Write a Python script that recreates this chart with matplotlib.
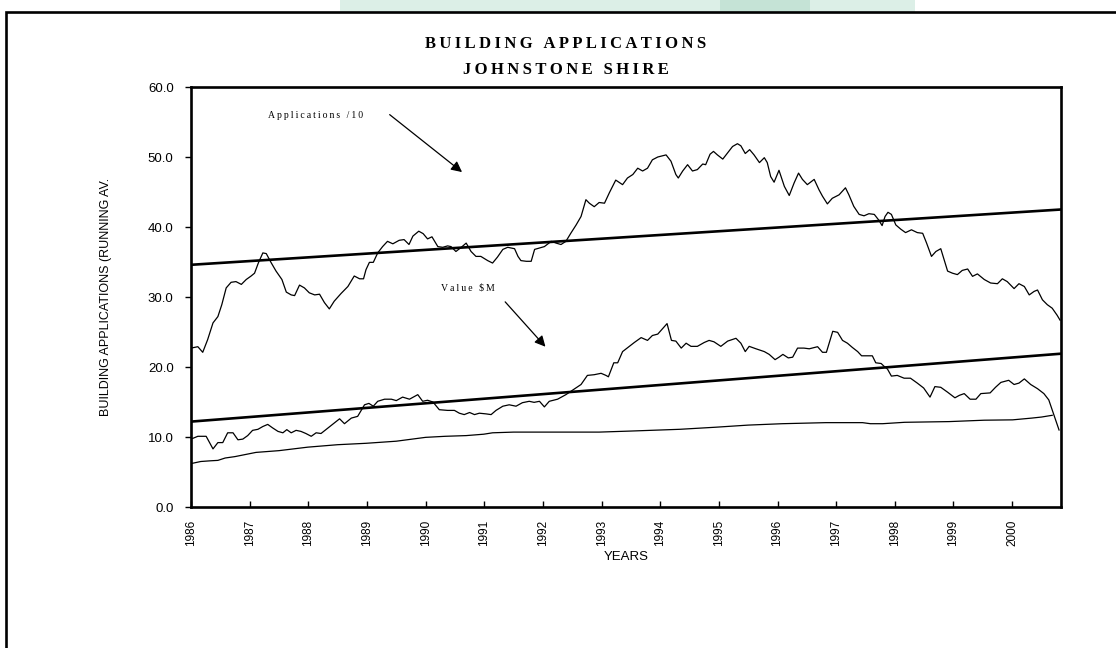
import matplotlib
matplotlib.use("Agg")
import matplotlib.pyplot as plt
from matplotlib.patches import Rectangle

# months counted from Jan 1986
apps_month = [0.0, 1.4, 2.4, 3.4, 4.5, 5.5, 6.3, 7.2, 8.2, 9.2, 10.3, 11.3, 12.3, 13.0, 13.8,
              14.7, 15.4, 16.4, 17.4, 18.6, 19.5, 20.5, 21.2, 22.2, 23.2, 24.2, 25.3, 26.3,
              27.3, 28.3, 29.3, 30.7, 32.1, 33.4, 34.5, 35.3, 35.8, 36.5, 37.3, 38.2, 39.2,
              40.2, 41.3, 42.6, 43.6, 44.6, 45.4, 46.6, 47.5, 48.4, 49.3, 50.5, 51.5, 52.5,
              53.2, 54.2, 55.3, 56.3, 57.3, 58.3, 59.3, 60.7, 61.7, 62.7, 63.8, 64.8, 66.2,
              66.9, 67.5, 68.6, 69.6, 70.3, 71.3, 72.3, 73.7, 74.7, 75.7, 76.7, 77.7, 78.8,
              79.8, 80.8, 81.5, 82.5, 83.5, 84.6, 85.6, 86.9, 88.3, 89.3, 90.4, 91.4, 92.4,
              93.4, 94.4, 95.5, 97.2, 98.2, 99.2, 99.7, 100.6, 101.6, 102.6, 103.6, 104.7,
              105.3, 106.2, 106.9, 107.7, 108.8, 109.8, 110.8, 111.8, 112.5, 113.4, 114.3,
              115.2, 116.3, 117.3, 117.9, 118.6, 119.3, 120.3, 121.4, 122.4, 123.4, 124.3,
              125.1, 126.1, 127.5, 128.5, 129.2, 130.2, 131.2, 132.6, 133.9, 134.6, 135.6,
              136.7, 137.7, 138.7, 139.8, 140.7, 141.4, 142.0, 142.6, 143.3, 144.2, 145.2,
              146.2, 147.4, 148.6, 149.7, 150.5, 151.5, 152.4, 153.4, 154.1, 154.8, 155.8,
              156.8, 157.8, 158.9, 159.9, 160.9, 162.3, 163.6, 165.0, 166.0, 167.0, 168.4,
              169.4, 170.5, 171.5, 172.5, 173.2, 174.2, 175.2, 176.2, 177.2, 177.8]
apps_value = [22.7, 22.9, 22.1, 23.9, 26.3, 27.2, 28.9, 31.3, 32.1, 32.2, 31.8, 32.5, 33.0, 33.4,
              34.9, 36.3, 36.2, 34.9, 33.7, 32.5, 30.7, 30.3, 30.2, 31.7, 31.3, 30.6, 30.3,
              30.4, 29.2, 28.3, 29.4, 30.5, 31.5, 33.0, 32.6, 32.6, 33.9, 34.95, 34.95, 36.3,
              37.2, 37.95, 37.6, 38.1, 38.2, 37.5, 38.7, 39.4, 39.05, 38.3, 38.6, 37.2, 37.1,
              37.3, 37.2, 36.5, 37.1, 37.7, 36.5, 35.8, 35.8, 35.2, 34.85, 35.7, 36.8, 37.1,
              36.9, 35.8, 35.2, 35.1, 35.1, 36.8, 37.0, 37.2, 37.95, 37.7, 37.5, 37.95, 39.1,
              40.3, 41.5, 43.9, 43.4, 42.9, 43.5, 43.4, 44.9, 46.7, 46.05, 47.0, 47.5, 48.4,
              48.0, 48.4, 49.6, 50.0, 50.3, 49.4, 47.5, 47.0, 48.0, 48.9, 48.0, 48.2, 49.0,
              48.9, 50.4, 50.8, 50.3, 49.7, 50.6, 51.5, 51.9, 51.6, 50.5, 51.05, 50.3, 49.2,
              49.9, 49.2, 47.2, 46.4, 48.1, 45.8, 44.5, 46.3, 47.7, 46.8, 46.05, 46.8, 45.3,
              44.4, 43.3, 44.1, 44.6, 45.6, 44.6, 42.95, 41.8, 41.6, 41.9, 41.8, 41.0, 40.2,
              41.5, 42.1, 41.8, 40.3, 39.7, 39.2, 39.6, 39.2, 39.1, 37.7, 35.8, 36.5, 36.9,
              35.3, 33.7, 33.4, 33.2, 33.8, 34.0, 32.95, 33.3, 32.5, 32.0, 31.9, 32.6, 32.2,
              31.2, 31.9, 31.5, 30.3, 30.8, 31.0, 29.6, 28.9, 28.4, 27.4, 26.7]

value_month = [0.0, 1.4, 3.1, 4.5, 5.5, 6.5, 7.5, 8.6, 9.6, 10.6, 11.6, 12.6, 13.7, 14.7, 15.7,
               16.7, 17.8, 18.8, 19.6, 20.5, 21.5, 22.5, 23.5, 24.6, 25.6, 26.6, 27.6, 29.0,
               30.4, 31.4, 32.8, 34.1, 34.9, 35.5, 36.4, 37.3, 38.2, 39.6, 41.0, 42.0, 43.3,
               44.7, 46.4, 47.4, 48.4, 49.5, 50.8, 52.5, 53.9, 54.9, 55.9, 57.0, 58.0, 59.0,
               60.4, 61.4, 62.4, 63.8, 65.1, 66.5, 67.8, 69.2, 70.2, 71.3, 72.3, 73.3, 75.0,
               76.7, 78.1, 79.8, 81.1, 82.5, 83.9, 84.9, 85.4, 86.5, 87.3, 88.3, 89.7, 90.7,
               92.1, 93.4, 94.4, 95.5, 96.5, 97.4, 98.3, 99.2, 100.3, 101.3, 102.3, 103.6,
               105.0, 106.0, 107.0, 108.4, 109.8, 111.5, 112.5, 113.4, 114.2, 115.6, 117.3,
               118.3, 119.5, 120.3, 121.1, 122.2, 123.1, 124.1, 125.4, 126.5, 128.2, 129.2,
               130.0, 131.3, 132.3, 133.3, 134.3, 135.3, 136.4, 137.2, 138.4, 139.4, 140.1,
               141.2, 141.8, 142.5, 143.3, 144.5, 145.9, 147.2, 148.6, 149.9, 151.2, 152.2,
               153.4, 154.8, 156.3, 157.2, 158.2, 159.4, 160.6, 161.6, 163.5, 164.6, 165.7,
               167.3, 168.4, 169.4, 170.5, 171.8, 173.2, 174.5, 175.5, 177.6]
value_value = [9.7, 10.1, 10.1, 8.3, 9.2, 9.2, 10.6, 10.6, 9.6, 9.7, 10.2, 10.95, 11.1, 11.5,
               11.8, 11.3, 10.8, 10.6, 11.05, 10.6, 10.95, 10.8, 10.5, 10.1, 10.6, 10.5, 11.05,
               11.8, 12.6, 11.9, 12.7, 12.95, 13.9, 14.6, 14.8, 14.4, 15.1, 15.4, 15.4, 15.2,
               15.7, 15.4, 16.05, 15.1, 15.25, 15.0, 13.9, 13.8, 13.8, 13.4, 13.2, 13.5, 13.2,
               13.4, 13.3, 13.2, 13.8, 14.4, 14.6, 14.4, 14.9, 15.1, 14.95, 15.1, 14.3, 15.1,
               15.4, 16.05, 16.7, 17.5, 18.8, 18.9, 19.1, 18.8, 18.6, 20.6, 20.6, 22.2, 22.95,
               23.5, 24.2, 23.8, 24.5, 24.7, 25.5, 26.2, 23.8, 23.7, 22.7, 23.4, 22.95, 22.95,
               23.5, 23.8, 23.6, 22.95, 23.7, 24.1, 23.4, 22.2, 22.95, 22.6, 22.2, 21.8, 21.05,
               21.4, 21.8, 21.3, 21.4, 22.7, 22.7, 22.6, 22.9, 22.1, 22.1, 25.1, 24.95, 23.8,
               23.4, 22.8, 22.2, 21.6, 21.6, 21.6, 20.6, 20.5, 20.1, 19.7, 18.7, 18.8, 18.4,
               18.4, 17.7, 17.0, 15.7, 17.2, 17.1, 16.4, 15.6, 15.95, 16.2, 15.4, 15.4, 16.2,
               16.3, 17.1, 17.8, 18.1, 17.5, 17.7, 18.3, 17.5, 16.9, 16.2, 15.3, 11.0]

third_month = [0, 2, 4, 5.5, 7, 9, 13.3, 18, 23.9, 30, 35.8, 42, 48, 52, 56.3, 59.9, 61.7, 66,
               72, 83.5, 90, 100, 107.4, 114, 121, 129.9, 137.4, 139, 141.5, 146, 155.1, 162.3,
               168.1, 172, 174, 176.2]
third_value = [6.2, 6.5, 6.6, 6.66, 7.0, 7.2, 7.8, 8.05, 8.55, 8.9, 9.1, 9.4, 9.95, 10.1, 10.2,
               10.4, 10.6, 10.7, 10.7, 10.7, 10.85, 11.1, 11.4, 11.7, 11.9, 12.05, 12.05, 11.9,
               11.9, 12.1, 12.2, 12.4, 12.45, 12.7, 12.85, 13.1]

# linear trend lines (ends)
trend_month = [0, 178]
apps_trend = [34.6, 42.5]
value_trend = [12.2, 21.9]

year_labels = [str(y) for y in range(1986, 2001)]
year_ticks = [12 * i for i in range(len(year_labels))]
y_ticks = [0, 10, 20, 30, 40, 50, 60]

W, H = 1116, 648
fig = plt.figure(figsize=(W / 100, H / 100), dpi=100)
fig.patch.set_facecolor("white")

# faint page background peeking above the frame
fig.add_artist(Rectangle((340 / W, 1 - 12 / H), 575 / W, 12 / H, transform=fig.transFigure,
                         facecolor="#dcefe7", edgecolor="none"))
fig.add_artist(Rectangle((720 / W, 1 - 12 / H), 90 / W, 12 / H, transform=fig.transFigure,
                         facecolor="#c5e3d6", edgecolor="none"))
fig.add_artist(Rectangle((6 / W, -0.1), 1.2, 1.1 - 12 / H, transform=fig.transFigure,
                         facecolor="none", edgecolor="black", linewidth=1.9))

ax = fig.add_axes([191 / W, 1 - 507 / H, (1061 - 191) / W, (507 - 87) / H])

ax.plot(apps_month, apps_value, color="black", lw=0.9)
ax.plot(value_month, value_value, color="black", lw=0.9)
ax.plot(third_month, third_value, color="black", lw=0.9)
ax.plot(trend_month, apps_trend, color="black", lw=1.9)
ax.plot(trend_month, value_trend, color="black", lw=1.9)

ax.set_xlim(0, 178)
ax.set_ylim(0, 60)
ax.set_yticks(y_ticks)
ax.set_yticklabels([f"{v:.1f}" for v in y_ticks], fontsize=9.5, family="Liberation Sans")
ax.set_xticks(year_ticks)
ax.set_xticklabels(year_labels, rotation=90, fontsize=8.5, family="Liberation Sans")
ax.tick_params(axis="y", direction="out", length=4.5, width=1, pad=8)
ax.tick_params(axis="x", direction="in", length=4.5, width=1, pad=9)
for s in ax.spines.values():
    s.set_linewidth(1.9)

ax.set_ylabel("BUILDING APPLICATIONS (RUNNING AV.", fontsize=9, family="Liberation Sans",
              labelpad=26)
ax.set_xlabel("YEARS", fontsize=9.5, family="Liberation Sans", labelpad=4)

sp = "\u2009"
serif = ["Liberation Serif", "DejaVu Serif"]
fig.text(566 / W, 1 - 48.5 / H, sp.join("BUILDING APPLICATIONS"), ha="center", va="baseline",
         fontsize=12, fontweight="bold", family=serif)
fig.text(566 / W, 1 - 74 / H, sp.join("JOHNSTONE SHIRE"), ha="center", va="baseline",
         fontsize=12, fontweight="bold", family=serif)

ax.text(25.4, 55.9, sp.join("Applications /10"), ha="center", va="center", fontsize=7,
        family=serif)
ax.annotate("", xy=(55.9, 47.6), xytext=(40.2, 56.3),
            arrowprops=dict(arrowstyle="-|>", color="black", lw=0.9, mutation_scale=16))
ax.text(56.7, 31.3, sp.join("Value $M"), ha="center", va="center", fontsize=7, family=serif)
ax.annotate("", xy=(72.9, 22.6), xytext=(63.9, 29.6),
            arrowprops=dict(arrowstyle="-|>", color="black", lw=0.9, mutation_scale=16))

fig.savefig("out.png", dpi=100)
